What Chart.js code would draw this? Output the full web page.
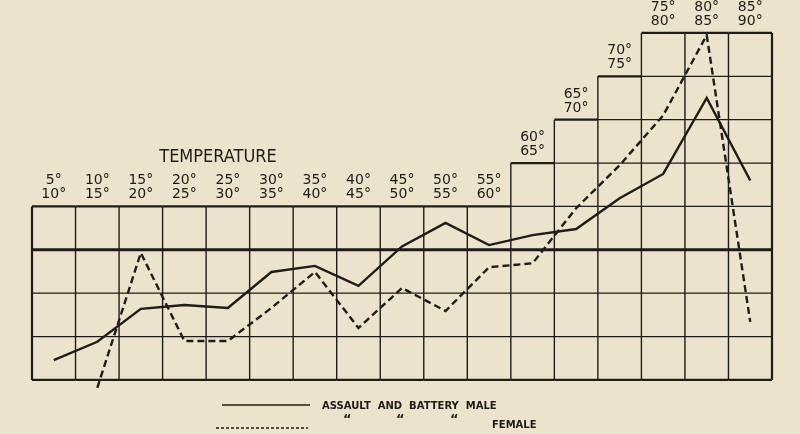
<!DOCTYPE html>
<html><head><meta charset="utf-8">
<script src="https://cdn.jsdelivr.net/npm/chart.js@4/dist/chart.umd.min.js"></script>
<style>html,body{margin:0;padding:0;background:#ebe3cb;}#c{display:block}</style>
</head><body>
<div style="width:800px;height:434px"><canvas id="c"></canvas></div>
<script>
const categories = ["5-10","10-15","15-20","20-25","25-30","30-35","35-40","40-45","45-50","50-55","55-60","60-65","65-70","70-75","75-80","80-85","85-90"];
const tickTop = ["5°","10°","15°","20°","25°","30°","35°","40°","45°","50°","55°","60°","65°","70°","75°","80°","85°"];
const tickBottom = ["10°","15°","20°","25°","30°","35°","40°","45°","50°","55°","60°","65°","70°","75°","80°","85°","90°"];
const columnTops = [4,4,4,4,4,4,4,4,4,4,4,5,6,7,8,8,8];
const male = [0.46,0.88,1.64,1.73,1.66,2.49,2.63,2.17,3.08,3.62,3.11,3.34,3.48,4.19,4.75,6.5,4.6];
const female = [null,-0.18,2.93,0.90,0.90,1.66,2.49,1.20,2.12,1.59,2.60,2.69,3.96,4.95,6.1,7.95,1.34];
const INK = "#1e1c18";
const toPts = arr => arr.map((v,i)=> v===null?null:{x:i+0.5,y:v}).filter(p=>p);

const gridPlugin = {
  id:'grid',
  beforeDatasetsDraw(chart){
    const {ctx, scales:{x,y}} = chart;
    ctx.save();
    ctx.strokeStyle = INK;
    const n = categories.length;
    for(let i=0;i<n;i++){
      const x0=x.getPixelForValue(i), x1=x.getPixelForValue(i+1);
      for(let k=0;k<=columnTops[i];k++){
        ctx.lineWidth = (k===0||k===3||k===columnTops[i]) ? (k===3?3:2.2) : 1.3;
        const yy=y.getPixelForValue(k);
        ctx.beginPath();ctx.moveTo(x0,yy);ctx.lineTo(x1,yy);ctx.stroke();
      }
    }
    for(let i=0;i<=n;i++){
      const top = Math.max(columnTops[Math.max(0,i-1)], columnTops[Math.min(n-1,i)]);
      const xx=x.getPixelForValue(i);
      ctx.lineWidth = (i===0||i===n)?2.2:1.4;
      ctx.beginPath();ctx.moveTo(xx,y.getPixelForValue(0));ctx.lineTo(xx,y.getPixelForValue(i===0||i===n?columnTops[Math.min(n-1,i)]:top));ctx.stroke();
    }
    ctx.fillStyle = INK;
    ctx.font = "14px 'DejaVu Sans'";
    ctx.textAlign = "center";
    for(let i=0;i<n;i++){
      const cx=x.getPixelForValue(i+0.5), ty=y.getPixelForValue(columnTops[i]);
      ctx.fillText(tickTop[i],cx,ty-22);
      ctx.fillText(tickBottom[i],cx,ty-8);
    }
    ctx.font = "18px 'DejaVu Sans Condensed','DejaVu Sans'";
    ctx.fillText("TEMPERATURE",218,162);
    ctx.lineWidth=1.4;
    ctx.beginPath();ctx.moveTo(222,405);ctx.lineTo(310,405);ctx.stroke();
    ctx.setLineDash([3,2]);
    ctx.beginPath();ctx.moveTo(216,428);ctx.lineTo(308,428);ctx.stroke();
    ctx.setLineDash([]);
    ctx.font = "bold 10px 'DejaVu Sans'";
    ctx.textAlign="left";
    ctx.fillText("ASSAULT  AND  BATTERY  MALE",322,409);
    ctx.font = "bold 13px 'DejaVu Sans'";
    ctx.fillText("\u201C",343,423);ctx.fillText("\u201C",396,423);ctx.fillText("\u201C",450,423);
    ctx.font = "bold 10px 'DejaVu Sans'";
    ctx.fillText("FEMALE",492,428);
    ctx.restore();
  }
};

new Chart(document.getElementById('c'),{
  type:'line',
  data:{datasets:[
    {label:'Male',data:toPts(male),borderColor:INK,borderWidth:2.4,pointRadius:0,tension:0,clip:false},
    {label:'Female',data:toPts(female),borderColor:INK,borderWidth:2.4,borderDash:[7,4],pointRadius:0,tension:0,clip:false}
  ]},
  options:{
    responsive:true,maintainAspectRatio:false,animation:false,
    layout:{padding:{left:32,right:28,top:2.6,bottom:28}},
    scales:{
      x:{type:'linear',min:0,max:17,display:false},
      y:{type:'linear',min:-0.6,max:8.7,display:false}
    },
    plugins:{legend:{display:false},tooltip:{enabled:false}}
  },
  plugins:[gridPlugin]
});
</script>
</body></html>
